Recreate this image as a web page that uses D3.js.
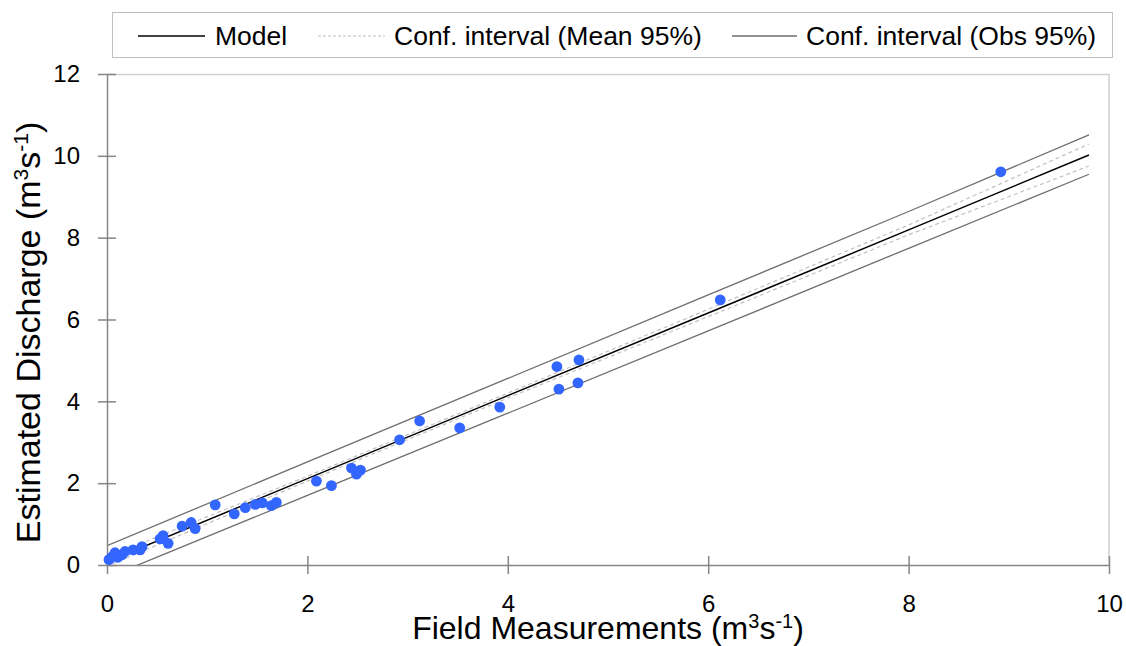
<!DOCTYPE html>
<html>
<head>
<meta charset="utf-8">
<script src="https://cdn.jsdelivr.net/npm/d3@7"></script>
<style>
  body { margin: 0; background: #fff; }
  text { font-family: Arial, "Liberation Sans", sans-serif; fill: #000; }
</style>
</head>
<body>
<svg id="chart"></svg>
<script>
const fieldX = [0.02, 0.05, 0.08, 0.11, 0.15, 0.18, 0.26, 0.33, 0.35, 0.53, 0.56, 0.61,
  0.75, 0.84, 0.88, 1.08, 1.27, 1.38, 1.48, 1.55, 1.64, 1.69, 2.09, 2.24, 2.44, 2.49,
  2.53, 2.92, 3.12, 3.52, 3.92, 4.49, 4.51, 4.70, 4.71, 6.12, 8.92];
const estimatedY = [0.13, 0.20, 0.30, 0.19, 0.25, 0.33, 0.37, 0.37, 0.45, 0.64, 0.72, 0.53,
  0.95, 1.04, 0.89, 1.47, 1.25, 1.40, 1.48, 1.52, 1.45, 1.53, 2.05, 1.94, 2.37, 2.22,
  2.32, 3.06, 3.52, 3.35, 3.86, 4.85, 4.30, 4.45, 5.01, 6.48, 9.61];

// fitted lines, read at a few x positions
const lineX = [0, 2, 4, 6, 8, 9.8];
const modelY = [0.08, 2.11, 4.14, 6.16, 8.19, 10.02];
const meanUpperY = [0.19, 2.17, 4.20, 6.25, 8.31, 10.29];
const meanLowerY = [-0.03, 2.05, 4.08, 6.07, 8.07, 9.75];
const obsUpperY = [0.47, 2.52, 4.56, 6.60, 8.64, 10.51];
const obsLowerY = [-0.31, 1.70, 3.71, 5.72, 7.74, 9.55];

const xTicks = [0, 2, 4, 6, 8, 10];
const yTicks = [0, 2, 4, 6, 8, 10, 12];
const legendLabels = ['Model', 'Conf. interval (Mean 95%)', 'Conf. interval (Obs 95%)'];

const width = 1126, height = 646;
const margin = {top: 74, right: 17, bottom: 81, left: 107};
const innerW = width - margin.left - margin.right;
const innerH = height - margin.top - margin.bottom;

const svg = d3.select('#chart').attr('width', width).attr('height', height);

const x = d3.scaleLinear().domain([0, 10]).range([0, innerW]);
const y = d3.scaleLinear().domain([0, 12]).range([innerH, 0]);

const g = svg.append('g').attr('transform', `translate(${margin.left},${margin.top})`);

g.append('defs').append('clipPath').attr('id', 'plot-clip')
  .append('rect').attr('width', innerW).attr('height', innerH);

// plot area border (top and right)
g.append('path')
  .attr('d', `M0,0.5H${innerW}V${innerH}`)
  .attr('fill', 'none')
  .attr('stroke', '#d0d0d0')
  .attr('stroke-width', 1.5);

// series lines
const lines = [
  {ys: obsUpperY, stroke: '#6e6e6e', width: 1.3, dash: null},
  {ys: obsLowerY, stroke: '#6e6e6e', width: 1.3, dash: null},
  {ys: meanUpperY, stroke: '#c0c0c0', width: 1.2, dash: '4,3'},
  {ys: meanLowerY, stroke: '#c0c0c0', width: 1.2, dash: '4,3'},
  {ys: modelY, stroke: '#000', width: 1.5, dash: null}
];
const lineGen = d3.line().x(d => x(d[0])).y(d => y(d[1]));
const lineG = g.append('g').attr('clip-path', 'url(#plot-clip)');
lines.forEach(l => {
  lineG.append('path')
    .attr('d', lineGen(lineX.map((v, i) => [v, l.ys[i]])))
    .attr('fill', 'none')
    .attr('stroke', l.stroke)
    .attr('stroke-width', l.width)
    .attr('stroke-dasharray', l.dash);
});

// axes
const axisColor = '#868686';
const xAxis = g.append('g')
  .attr('transform', `translate(0,${innerH})`)
  .call(d3.axisBottom(x).tickValues(xTicks).tickSize(9).tickPadding(21).tickFormat(d3.format('d')));
xAxis.selectAll('.tick line').attr('y1', -9);

const yAxis = g.append('g')
  .call(d3.axisLeft(y).tickValues(yTicks).tickSize(9).tickPadding(18).tickFormat(d3.format('d')));
yAxis.selectAll('.tick line').attr('x1', 9);

[xAxis, yAxis].forEach(a => {
  a.select('.domain').attr('stroke', axisColor).attr('stroke-width', 1.5);
  a.selectAll('.tick line').attr('stroke', axisColor).attr('stroke-width', 1.5);
  a.selectAll('.tick text')
    .attr('fill', '#000')
    .attr('font-size', 24)
    .attr('font-family', 'Arial, "Liberation Sans", sans-serif');
});
xAxis.select('.domain').attr('d', `M0,0.5H${innerW}`);
yAxis.select('.domain').attr('d', `M0.5,0V${innerH}`);

// points
g.append('g').selectAll('circle')
  .data(fieldX.map((v, i) => [v, estimatedY[i]]))
  .join('circle')
  .attr('cx', d => x(d[0]))
  .attr('cy', d => y(d[1]))
  .attr('r', 5.4)
  .attr('fill', '#3366ff');

// axis titles with superscripts
function unitTitle(sel, label, size) {
  const sup = Math.round(size * 0.62), shift = Math.round(size * 0.34);
  sel.attr('font-size', size);
  sel.append('tspan').text(label + ' (m');
  sel.append('tspan').text('3').attr('font-size', sup).attr('dy', -shift);
  sel.append('tspan').text('s').attr('dy', shift);
  sel.append('tspan').text('-1').attr('font-size', sup).attr('dy', -shift);
  sel.append('tspan').text(')').attr('dy', shift);
}

svg.append('text')
  .attr('x', margin.left + innerW / 2)
  .attr('y', 639)
  .attr('text-anchor', 'middle')
  .call(unitTitle, 'Field Measurements', 32);

svg.append('text')
  .attr('transform', `translate(40,${margin.top + innerH / 2 + 13}) rotate(-90)`)
  .attr('text-anchor', 'middle')
  .call(unitTitle, 'Estimated Discharge', 34);

// legend
const legend = svg.append('g');
legend.append('rect')
  .attr('x', 112.5).attr('y', 12.5)
  .attr('width', 1000).attr('height', 45)
  .attr('fill', '#fff')
  .attr('stroke', '#bfbfbf')
  .attr('stroke-width', 1);

const legendItems = [
  {label: legendLabels[0], x1: 138, x2: 205, tx: 215, stroke: '#000', width: 1.3, dash: null},
  {label: legendLabels[1], x1: 318, x2: 385, tx: 394, stroke: '#c0c0c0', width: 1.2, dash: '3,2'},
  {label: legendLabels[2], x1: 732, x2: 797, tx: 806, stroke: '#6e6e6e', width: 1.3, dash: null}
];
legendItems.forEach(it => {
  legend.append('line')
    .attr('x1', it.x1).attr('x2', it.x2)
    .attr('y1', 36).attr('y2', 36)
    .attr('stroke', it.stroke)
    .attr('stroke-width', it.width)
    .attr('stroke-dasharray', it.dash);
  legend.append('text')
    .attr('x', it.tx).attr('y', 45)
    .attr('font-size', 26.5)
    .text(it.label);
});
</script>
</body>
</html>
